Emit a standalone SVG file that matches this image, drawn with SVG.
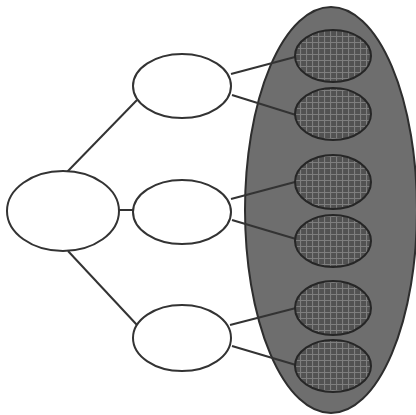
<svg xmlns="http://www.w3.org/2000/svg" width="416" height="415" viewBox="0 0 416 415">
<style>
.node{fill:#ffffff;stroke:#333333;stroke-width:2}
.leaf{fill:url(#hatch);stroke:#262626;stroke-width:2}
.edge{stroke:#333333;stroke-width:2;fill:none}
</style>
<defs>
<pattern id="hatch" width="6" height="6" patternUnits="userSpaceOnUse">
<rect width="6" height="6" fill="#525252"/>
<path d="M0 0.5H6M0.5 0V6" stroke="#7e7e7e" stroke-width="1.2"/>
</pattern>
</defs>
<rect width="416" height="415" fill="#ffffff"/>
<g id="set">
<ellipse cx="331" cy="210" rx="86" ry="203" fill="#6e6e6e" stroke="#2e2e2e" stroke-width="2"/>
</g>
<g id="connectors">
<line class="edge" x1="67" y1="172" x2="137" y2="100"/>
<line class="edge" x1="119" y1="210" x2="133" y2="210"/>
<line class="edge" x1="68" y1="251" x2="137" y2="325"/>
<line class="edge" x1="231" y1="74" x2="295" y2="57"/>
<line class="edge" x1="232" y1="95" x2="296" y2="115"/>
<line class="edge" x1="231" y1="199" x2="295" y2="182"/>
<line class="edge" x1="232" y1="220" x2="296" y2="239"/>
<line class="edge" x1="230" y1="325" x2="296" y2="308"/>
<line class="edge" x1="232" y1="346" x2="296" y2="365"/>
</g>
<g id="root"><ellipse class="node" cx="63" cy="211" rx="56" ry="40"/></g>
<g id="mid1"><ellipse class="node" cx="182" cy="86" rx="49" ry="32"/></g>
<g id="mid2"><ellipse class="node" cx="182" cy="212" rx="49" ry="32"/></g>
<g id="mid3"><ellipse class="node" cx="182" cy="338" rx="49" ry="33"/></g>
<g id="leaf1"><ellipse class="leaf" cx="333" cy="56" rx="38" ry="26"/></g>
<g id="leaf2"><ellipse class="leaf" cx="333" cy="114" rx="38" ry="26"/></g>
<g id="leaf3"><ellipse class="leaf" cx="333" cy="182" rx="38" ry="27"/></g>
<g id="leaf4"><ellipse class="leaf" cx="333" cy="241" rx="38" ry="26"/></g>
<g id="leaf5"><ellipse class="leaf" cx="333" cy="308" rx="38" ry="27"/></g>
<g id="leaf6"><ellipse class="leaf" cx="333" cy="366" rx="38" ry="26"/></g>
</svg>
